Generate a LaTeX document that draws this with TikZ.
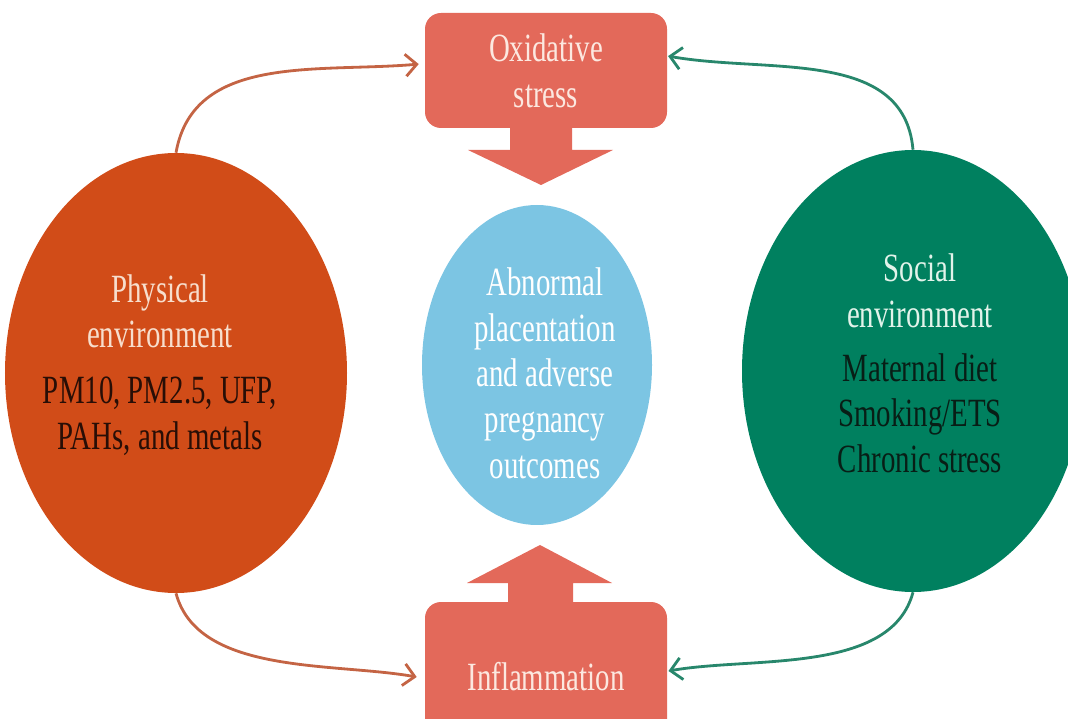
\documentclass[tikz,border=0pt]{standalone}
\usepackage{fontspec}
\setmainfont{Liberation Serif}[FakeStretch=0.72]
\usetikzlibrary{shapes.geometric,arrows.meta}

\begin{document}
\begin{tikzpicture}[font=\fontsize{28.5}{32.5}\selectfont, >={Straight Barb[length=0.28cm,width=0.55cm]},
		blob/.style={ellipse, inner sep=0pt},
		causebox/.style={rectangle, rounded corners=0.4cm, fill=boxred, text=boxtext, minimum width=6.05cm, align=center},
		txt/.style={align=center, inner sep=0pt},
		physlink/.style={->, line width=2pt, physline},
		sociallink/.style={->, line width=2pt, socialline}]
				\definecolor{physred}{RGB}{209, 76, 24}
				\definecolor{socialgreen}{RGB}{0, 128, 95}
				\definecolor{midblue}{RGB}{124, 197, 227}
				\definecolor{boxred}{RGB}{227, 105, 90}
				\definecolor{boxtext}{RGB}{252, 232, 224}
				\definecolor{physline}{RGB}{196, 100, 68}
				\definecolor{socialline}{RGB}{40, 135, 108}
				\definecolor{physcream}{RGB}{247, 222, 205}
				\definecolor{physink}{RGB}{40, 14, 6}
				\definecolor{socialmint}{RGB}{226, 243, 234}
				\definecolor{socialink}{RGB}{8, 30, 22}
				\clip (0,0) rectangle (26.7,17.95);
				% the three ellipses
				\node[blob, fill=physred, minimum width=8.55cm, minimum height=11cm] (phys) at (4.4,8.625) {};
				\node[blob, fill=socialgreen, minimum width=8.55cm, minimum height=11.05cm] (social) at (22.825,8.675) {};
				\node[blob, fill=midblue, minimum width=5.75cm, minimum height=8cm] (outcome) at (13.425,8.825) {};
				\node[txt, text=physcream] (phystxt) at (4.0,8.825) {Physical\\environment\\[0.25cm]\textcolor{physink}{PM10, PM2.5, UFP,}\\\textcolor{physink}{PAHs, and metals}};
				\node[txt, text=white] (outtxt) at (13.625,8.625) {Abnormal\\placentation\\and adverse\\pregnancy\\outcomes};
				\node[txt, text=socialmint] (soctxt) at (23.0,8.86) {Social\\environment\\[0.2cm]\textcolor{socialink}{Maternal diet}\\\textcolor{socialink}{Smoking/ETS}\\\textcolor{socialink}{Chronic stress}};
				% block arrows
				\fill[boxred] (12.75,14.8) -- (12.75,14.2) -- (11.7,14.2) -- (13.525,13.325) -- (15.325,14.2) -- (14.3,14.2) -- (14.3,14.8) -- cycle;
				\fill[boxred] (12.7,2.85) -- (12.7,3.375) -- (11.675,3.375) -- (13.5,4.325) -- (15.3,3.375) -- (14.325,3.375) -- (14.325,2.85) -- cycle;
				% the two boxes
				\node[causebox, minimum height=2.875cm] (ox) at (13.65,16.1875) {Oxidative\\stress};
				\node[causebox, minimum height=3.75cm] (infl) at (13.65,1.025) {Inflammation};
				% curved links
				\draw[physlink] (phys.north) to[out=80, in=185] ([yshift=0.16cm, xshift=-0.15cm]ox.west);
				\draw[sociallink] (social.north) to[out=95, in=-10] ([yshift=0.36cm, xshift=0.02cm]ox.east);
				\draw[physlink] (phys.south) to[out=-75, in=170, looseness=0.85] ([xshift=-0.2cm]infl.west);
				\draw[sociallink] (social.south) to[out=-105, in=10, looseness=0.85] ([yshift=0.15cm, xshift=0.03cm]infl.east);
			\end{tikzpicture}
\end{document}
